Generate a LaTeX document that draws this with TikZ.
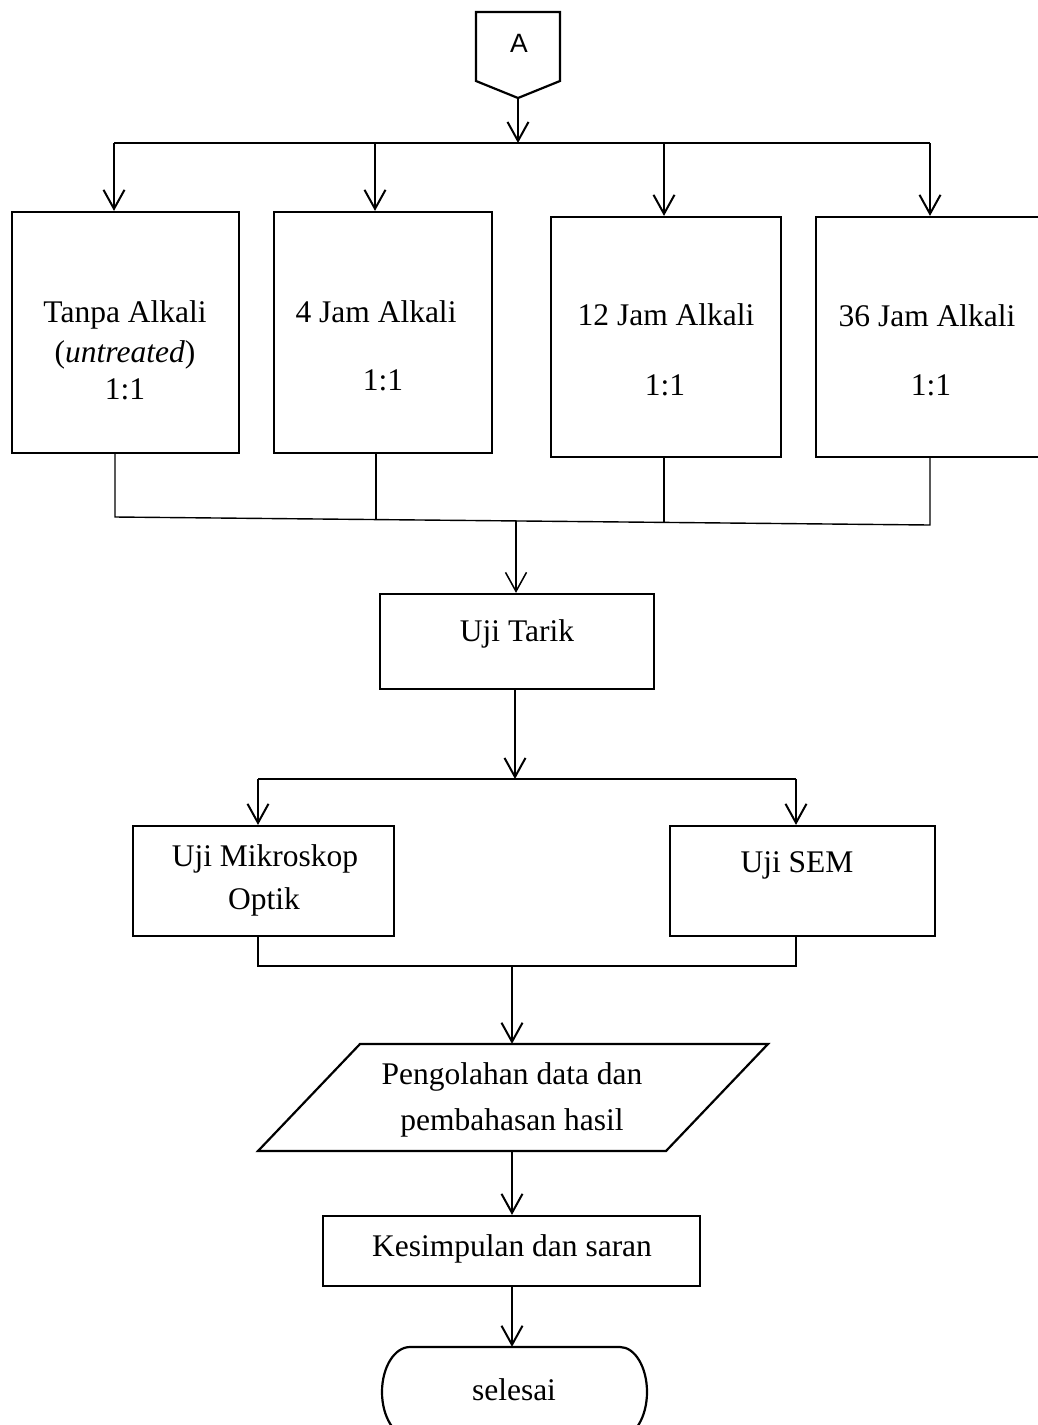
\documentclass[tikz,border=0pt]{standalone}
\usepackage{fontspec}
\setmainfont{Liberation Serif}
\newfontfamily\sansA{Liberation Sans}
\usetikzlibrary{arrows.meta,calc}
\begin{document}
\begin{tikzpicture}[x=1pt,y=-1pt,
  box/.style={draw, line width=2.2pt, inner sep=0pt, anchor=center},
  lbl/.style={font=\fontsize{31.5pt}{38pt}\selectfont, inner sep=0pt, anchor=base},
  arr/.style={line width=2pt, -{Straight Barb[length=19pt,width=21pt]}},
  ln/.style={line width=2pt},
  thinln/.style={line width=1.4pt}]
\useasboundingbox (0,0) rectangle (1038,1425);
\clip (0,0) rectangle (1038,1425);

% off-page connector A
\draw[line width=2.2pt] (476,12) -- (560,12) -- (560,81) -- (518,98) -- (476,81) -- cycle;
\coordinate (apt) at (518,98);
\node[font=\sansA\fontsize{26.5pt}{30pt}\selectfont, inner sep=0pt, anchor=base] (conA) at (519,52) {A};

% four treatment boxes
\node[box, minimum width=227pt, minimum height=241pt] (b1) at (125.5,332.5) {};
\node[box, minimum width=218pt, minimum height=241pt] (b2) at (383,332.5) {};
\node[box, minimum width=230pt, minimum height=240pt] (b3) at (666,337) {};
\node[box, minimum width=230pt, minimum height=240pt] (b4) at (931,337) {};

\node[lbl] (t1a) at (125,322) {Tanpa Alkali};
\node[lbl] (t1b) at (125,362) {(\textit{untreated})};
\node[lbl] (t1c) at (125,399) {1:1};
\node[lbl] (t2a) at (376,322.5) {4 Jam Alkali};
\node[lbl] (t2b) at (383,390.5) {1:1};
\node[lbl] (t3a) at (666,325.5) {12 Jam Alkali};
\node[lbl] (t3b) at (665,395.5) {1:1};
\node[lbl] (t4a) at (927,326) {36 Jam Alkali};
\node[lbl] (t4b) at (931,395.5) {1:1};

% top distribution bar
\coordinate (tm) at (518,143);
\coordinate (tl) at (114,143);
\coordinate (t2) at (375,143);
\coordinate (t3) at (664,143);
\coordinate (tr) at (930,143);
\draw[arr] (apt) -- (tm);
\draw[ln] (tl) -- (tr);
\draw[arr] (tl) -- (tl |- b1.north);
\draw[arr] (t2) -- (t2 |- b2.north);
\draw[arr] (t3) -- (t3 |- b3.north);
\draw[arr] (tr) -- (tr |- b4.north);

% Uji Tarik
\node[box, minimum width=274pt, minimum height=95pt] (ut) at (517,641.5) {};
\node[lbl] (utt) at (517,641) {Uji Tarik};

% collecting bar (slightly slanted)
\coordinate (jl) at (115,517);
\coordinate (j2) at (376,519.6);
\coordinate (jm) at (516,520.9);
\coordinate (j3) at (664,522.4);
\coordinate (jr) at (930,525);
\draw[thinln] (jl |- b1.south) -- (jl) -- (jr) -- (jr |- b4.south);
\draw[thinln] (j2 |- b2.south) -- (j2);
\draw[thinln] (j3 |- b3.south) -- (j3);
\draw[arr, line width=1.5pt] (jm) -- (jm |- ut.north);

% Mikroskop / SEM
\node[box, minimum width=261pt, minimum height=110pt] (mik) at (263.5,881) {};
\node[lbl] (mikt1) at (265,866) {Uji Mikroskop};
\node[lbl] (mikt2) at (264,909) {Optik};
\node[box, minimum width=265pt, minimum height=110pt] (sem) at (802.5,881) {};
\node[lbl] (semt) at (797,872) {Uji SEM};

\coordinate (m1) at (515,779);
\coordinate (ml) at (258,779);
\coordinate (mr) at (796,779);
\draw[arr] (ut.south -| m1) -- (m1);
\draw[ln] (ml) -- (mr);
\draw[arr] (ml) -- (ml |- mik.north);
\draw[arr] (mr) -- (mr |- sem.north);

% join to parallelogram
\node[inner sep=0pt, minimum width=300pt, minimum height=107pt] (para) at (512,1097.5) {};
\draw[line width=2.2pt] (360,1044) -- (768,1044) -- (666,1151) -- (258,1151) -- cycle;
\node[lbl] (parat1) at (512,1084) {Pengolahan data dan};
\node[lbl] (parat2) at (512,1130) {pembahasan hasil};

\coordinate (nl) at (258,966);
\coordinate (nm) at (512,966);
\coordinate (nr) at (796,966);
\draw[ln] (nl |- mik.south) -- (nl) -- (nr) -- (nr |- sem.south);
\draw[arr] (nm) -- (nm |- para.north);

% Kesimpulan
\node[box, minimum width=377pt, minimum height=70pt] (kes) at (511.5,1251) {};
\node[lbl] (kest) at (512,1256) {Kesimpulan dan saran};
\draw[arr] (para.south) -- (para.south |- kes.north);

% selesai terminator
\node[inner sep=0pt, minimum width=265pt, minimum height=90pt] (sel) at (514.5,1392) {};
\draw[line width=2.2pt] (410,1347) -- (620,1347)
  arc[start angle=-90, end angle=90, x radius=27, y radius=45]
  -- (410,1437)
  arc[start angle=90, end angle=270, x radius=28, y radius=45] -- cycle;
\node[lbl] (selt) at (514,1400) {selesai};
\coordinate (ks) at (512,1286);
\draw[arr] (ks) -- (ks |- sel.north);
\end{tikzpicture}
\end{document}
